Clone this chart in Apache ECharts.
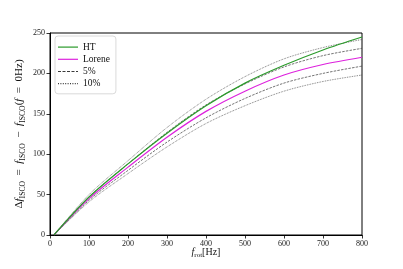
<!DOCTYPE html>
<html>
<head>
<meta charset="utf-8">
<script src="https://cdn.jsdelivr.net/npm/echarts@6/dist/echarts.min.js"></script>
<style>
  html, body { margin: 0; padding: 0; background: #fff; }
  #main { width: 403px; height: 269px; }
</style>
</head>
<body>
<div id="main"></div>
<script>
// values
const fRot = [10, 100, 200, 300, 400, 500, 600, 700, 800];
const ht = [0, 47, 88, 126, 160, 188, 210, 229, 245];
const lorene = [0, 45, 84, 121, 153, 178, 198, 211, 220];
const up5 = [0, 47, 88, 127, 161, 187, 208, 222, 231];
const lo5 = [0, 43, 80, 115, 145, 169, 188, 200, 209];
const up10 = [0, 50, 92, 133, 168, 196, 218, 232, 242];
const lo10 = [0, 41, 76, 109, 138, 160, 178, 190, 198];
const xTicks = [0, 100, 200, 300, 400, 500, 600, 700, 800];
const yTicks = [0, 50, 100, 150, 200, 250];

const serif = '"Liberation Serif", "DejaVu Serif", serif';
const pairs = ys => fRot.map((x, i) => [x, ys[i]]);

// legend line samples as thin filled paths (20 x 1.2 box)
function dashPath(dash, gap) {
  let p = '';
  for (let x = 0; x < 20; x += dash + gap) {
    const w = Math.min(dash, 20 - x);
    p += 'M' + x + ',0h' + w + 'v1.2h-' + w + 'z';
  }
  return 'path://' + p;
}
const solidIcon = 'path://M0,0h20v1.2h-20z';

const chart = echarts.init(document.getElementById('main'));

function mathRich(size) {
  return {
    i: { fontStyle: 'italic', fontFamily: serif, fontSize: size, lineHeight: size + 4, color: '#111' },
    s: { fontFamily: serif, fontSize: size * 0.7, lineHeight: size * 0.95, verticalAlign: 'bottom', color: '#111' }
  };
}

function band(name, ys, dash, color) {
  return {
    name: name,
    type: 'line',
    data: pairs(ys),
    smooth: 0.3,
    showSymbol: false,
    symbol: 'none',
    z: 2,
    itemStyle: { color: color },
    lineStyle: { color: color, width: 0.7, type: dash }
  };
}

chart.setOption({
  animation: false,
  backgroundColor: '#fff',
  grid: {
    left: 50, right: 41, top: 33, bottom: 34,
    show: true, borderColor: '#000', borderWidth: 1, backgroundColor: 'transparent'
  },
  legend: {
    orient: 'vertical',
    left: 55, top: 36,
    padding: [6, 6, 5, 3],
    itemWidth: 20, itemHeight: 1.2, itemGap: 2,
    backgroundColor: '#fff',
    borderColor: '#d0d0d0', borderWidth: 0.8, borderRadius: 3,
    textStyle: { fontFamily: serif, fontSize: 9.5, color: '#111', lineHeight: 10.2 },
    data: [
      { name: 'HT', icon: solidIcon },
      { name: 'Lorene', icon: solidIcon },
      { name: '5%', icon: dashPath(3, 1.5) },
      { name: '10%', icon: dashPath(1, 1.4) }
    ]
  },
  xAxis: {
    type: 'value', min: 0, max: 800, interval: 100,
    name: '{i|f}{s|rot}[Hz]',
    nameLocation: 'middle', nameGap: 10, nameMoveOverlap: false,
    nameTextStyle: { fontFamily: serif, fontSize: 10, lineHeight: 14, color: '#111', rich: mathRich(10) },
    axisLine: { lineStyle: { color: '#000', width: 1 } },
    axisTick: { show: true, length: 3.5, inside: false, lineStyle: { color: '#000', width: 0.8 } },
    axisLabel: {
      fontFamily: serif, fontSize: 8, color: '#222', margin: 5,
      customValues: xTicks
    },
    splitLine: { show: false }
  },
  yAxis: {
    type: 'value', min: 0, max: 250, interval: 50,
    name: 'Δ{i|f}{s|ISCO}  =  {i|f}{s|ISCO}  −  {i|f}{s|ISCO}({i|f}  =  0Hz)',
    nameLocation: 'middle', nameGap: 23, nameRotate: 90, nameMoveOverlap: false,
    nameTextStyle: { fontFamily: serif, fontSize: 11, lineHeight: 15, color: '#111', rich: mathRich(11) },
    axisLine: { lineStyle: { color: '#000', width: 1 } },
    axisTick: { show: true, length: 3.5, inside: false, lineStyle: { color: '#000', width: 0.8 } },
    axisLabel: {
      fontFamily: serif, fontSize: 8, color: '#222', margin: 5,
      customValues: yTicks
    },
    splitLine: { show: false }
  },
  series: [
    {
      name: 'HT', type: 'line', data: pairs(ht), smooth: 0.3,
      showSymbol: false, symbol: 'none', z: 4,
      itemStyle: { color: '#2a9a2a' },
      lineStyle: { color: '#2a9a2a', width: 1.2 }
    },
    {
      name: 'Lorene', type: 'line', data: pairs(lorene), smooth: 0.3,
      showSymbol: false, symbol: 'none', z: 3,
      itemStyle: { color: '#dd22dd' },
      lineStyle: { color: '#dd22dd', width: 1.2 }
    },
    band('5%', up5, [2.5, 1.2], '#3a3a3a'),
    band('5%', lo5, [2.5, 1.2], '#3a3a3a'),
    band('10%', up10, [0.8, 0.9], '#3a3a3a'),
    band('10%', lo10, [0.8, 0.9], '#3a3a3a')
  ]
});
</script>
</body>
</html>
